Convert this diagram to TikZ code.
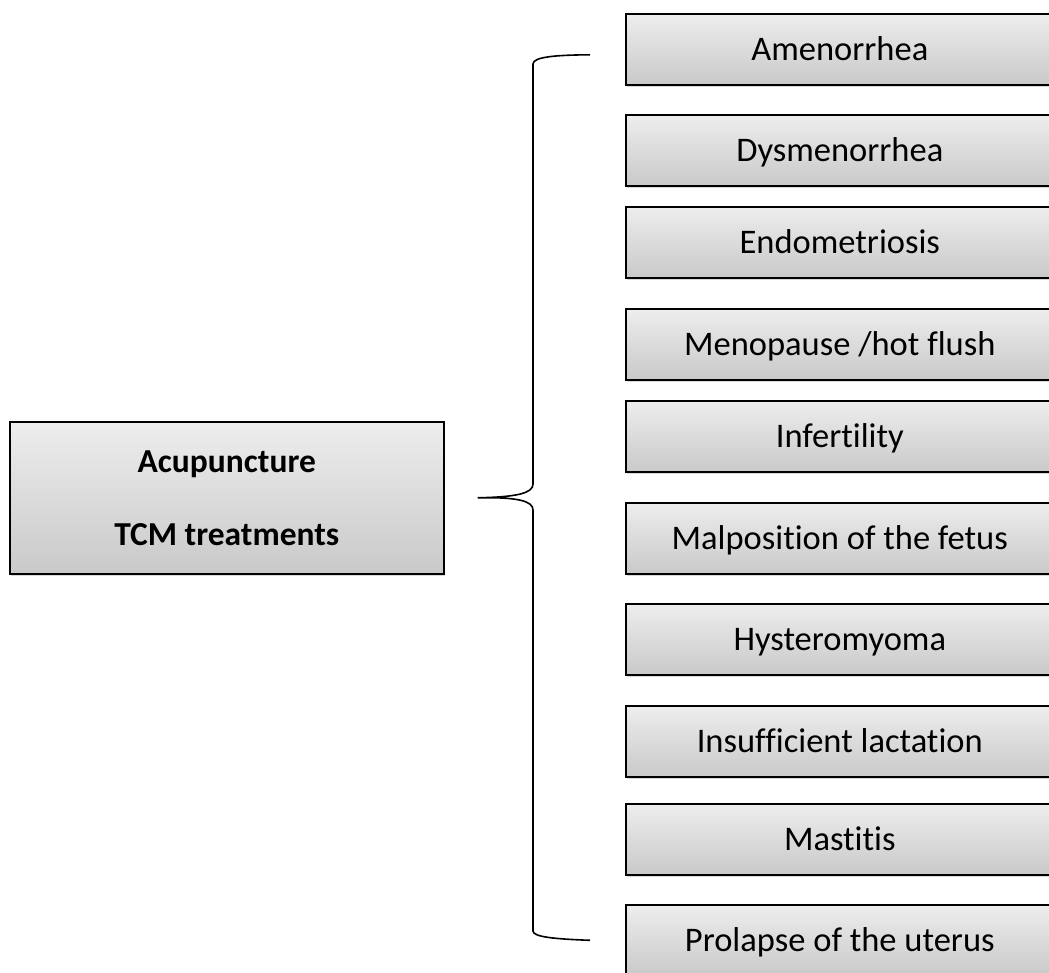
\documentclass[tikz,border=0pt]{standalone}
\usepackage{fontspec}
\setmainfont{Carlito}[Ligatures={NoCommon,NoContextual}]
\usetikzlibrary{shadows,calc}
\begin{document}
\begin{tikzpicture}[x=1pt,y=-1pt,
  box/.style={draw=black, line width=1.6pt, top color=gray!14, bottom color=gray!42,
    drop shadow={shadow xshift=1.5pt, shadow yshift=-2pt, opacity=0.3},
    inner sep=0pt, text=black},
  item/.style={box, anchor=north west, minimum width=428pt, minimum height=71pt,
    font=\fontsize{34.5}{40}\selectfont, text height=23pt, text depth=0pt},
  brace/.style={draw=black, line width=1.6pt}]
\useasboundingbox (0,0) rectangle (1049,973);
\clip (0,0) rectangle (1049,973);
\node[box, anchor=north west, minimum width=434pt, minimum height=152pt, align=center,
  font=\bfseries\fontsize{33.5}{73}\selectfont] (src) at (9,421) {Acupuncture\\TCM treatments};
\node[item] (b1) at (625,13) {Amenorrhea};
\node[item] (b2) at (625,114) {Dysmenorrhea};
\node[item] (b3) at (625,206) {Endometriosis};
\node[item] (b4) at (625,308) {Menopause /hot flush};
\node[item] (b5) at (625,400) {Infertility};
\node[item] (b6) at (625,502) {Malposition of the fetus};
\node[item] (b7) at (625,603) {Hysteromyoma};
\node[item] (b8) at (625,705) {Insufficient lactation};
\node[item] (b9) at (625,803) {Mastitis};
\node[item] (b10) at (625,904) {Prolapse of the uterus};
\coordinate (tip) at ($(src.east)+(33,0)$);
\coordinate (btop) at ($(b1.west)+(-35,5.5)$);
\coordinate (bbot) at ($(b10.west)+(-35,0)$);
\draw[brace] (btop) .. controls (555,55) and (533,57) .. (533,64) -- (533,484)
  .. controls (533,493) and (518,497) .. (tip)
  .. controls (518,497) and (533,501) .. (533,510) -- (533,931)
  .. controls (533,937) and (555,939) .. (bbot);
\end{tikzpicture}
\end{document}
